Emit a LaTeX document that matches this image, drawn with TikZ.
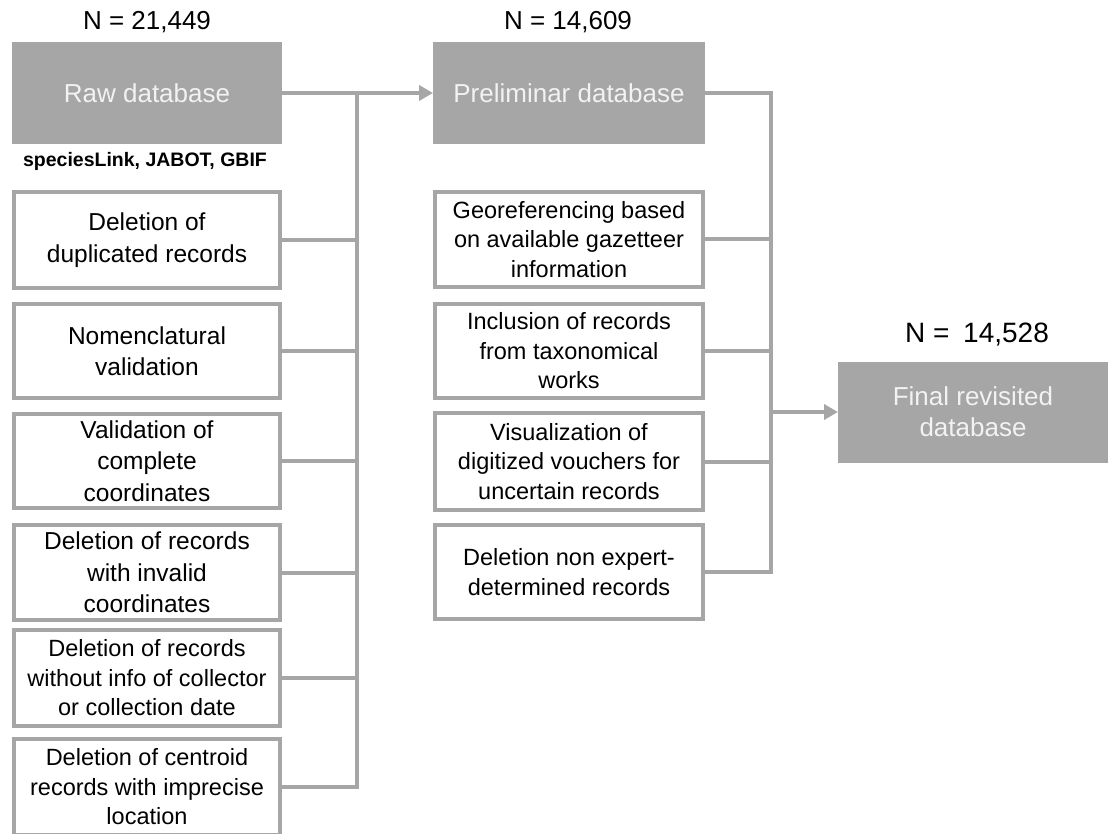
\documentclass[tikz,border=0pt]{standalone}
\usepackage{fontspec}
\setmainfont{Liberation Sans}
\usetikzlibrary{arrows.meta}
\definecolor{boxgray}{HTML}{A6A6A6}
\definecolor{headtext}{HTML}{F2F2F2}
\begin{document}
\begin{tikzpicture}[x=1pt,y=-1pt,
  headbox/.style={rectangle, fill=boxgray, draw=none, outer sep=0pt, inner sep=0pt,
    text=headtext, align=center, font=\fontsize{26}{31}\selectfont},
  stepbox/.style={rectangle, draw=boxgray, fill=white, line width=4pt, inner sep=0pt,
    align=center, text=black, minimum width=266pt},
  looser/.style={font=\fontsize{24.5}{31.5}\selectfont},
  tighter/.style={font=\fontsize{23.5}{29.5}\selectfont},
  midbox/.style={stepbox, minimum width=268pt},
  conn/.style={draw=boxgray, line width=4pt, line join=miter},
  arr/.style={conn, -{Triangle[length=14pt,width=15pt]}},
  count/.style={inner sep=0pt, text=black, font=\fontsize{26}{31}\selectfont}
]
\useasboundingbox (0,0) rectangle (1108,834);

% left column
\node[count] (nraw) at (147,22) {N = 21,449};
\node[headbox, minimum width=270pt, minimum height=102pt] (raw) at (147,93) {Raw database};
\node[inner sep=0pt, font=\fontsize{19.5}{23}\selectfont\bfseries] (src) at (145,161) {speciesLink, JABOT, GBIF};

\node[stepbox, looser, minimum height=96pt] (d1) at (147,240) {Deletion of\\duplicated records};
\node[stepbox, looser, minimum height=94pt] (d2) at (147,351) {Nomenclatural\\validation};
\node[stepbox, looser, minimum height=94pt] (d3) at (147,461) {Validation of\\complete\\coordinates};
\node[stepbox, looser, minimum height=95pt] (d4) at (147,572.5) {Deletion of records\\with invalid\\coordinates};
\node[stepbox, tighter, minimum height=96pt] (d5) at (147,678) {Deletion of records\\without info of collector\\or collection date};
\node[stepbox, tighter, minimum height=96pt] (d6) at (147,787) {Deletion of centroid\\records with imprecise\\location};

% middle column
\node[count] (nprel) at (568,22) {N = 14,609};
\node[headbox, minimum width=272pt, minimum height=102pt] (prel) at (569,93) {Preliminar database};

\node[midbox, tighter, minimum height=95pt] (m1) at (569,239.5) {Georeferencing based\\on available gazetteer\\information};
\node[midbox, tighter, minimum height=94pt] (m2) at (569,351) {Inclusion of records\\from taxonomical\\works};
\node[midbox, tighter, minimum height=97pt] (m3) at (569,461.5) {Visualization of\\digitized vouchers for\\uncertain records};
\node[midbox, tighter, minimum height=94pt] (m4) at (569,572) {Deletion non expert-\\determined records};

% final
\node[count, font=\fontsize{28}{33}\selectfont] (nfin) at (977,335) {N =\hspace{6pt} 14,528};
\node[headbox, minimum width=270pt, minimum height=101pt] (fin) at (973,412) {Final revisited\\database};

% buses
\coordinate (busL) at (357,93);
\coordinate (busM) at (771,93);

\draw[arr] (raw.east) -- (prel.west);
\draw[conn] (d6.east) -- (d6.east -| busL) -- (busL);
\foreach \n in {d1,d2,d3,d4,d5} {
  \draw[conn] (\n.east) -- (\n.east -| busL);
}

\draw[conn] (prel.east) -- (busM) -- (m4.east -| busM) -- (m4.east);
\foreach \n in {m1,m2,m3} {
  \draw[conn] (\n.east) -- (\n.east -| busM);
}
\draw[arr] (fin.west -| busM) -- (fin.west);
\end{tikzpicture}
\end{document}
